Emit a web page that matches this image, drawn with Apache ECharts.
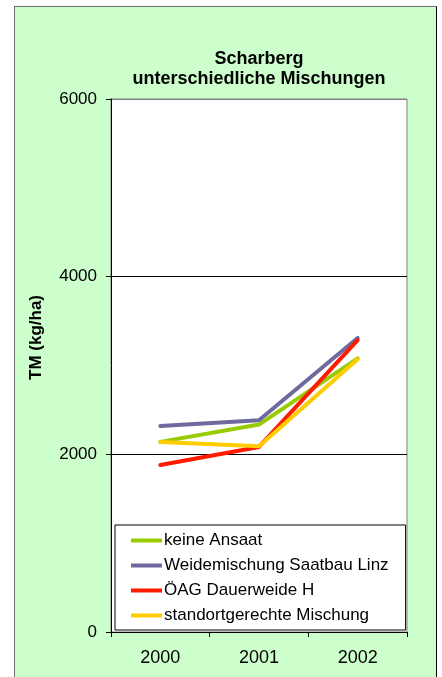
<!DOCTYPE html>
<html>
<head>
<meta charset="utf-8">
<script src="https://cdn.jsdelivr.net/npm/echarts@6/dist/echarts.min.js"></script>
<style>
html,body{margin:0;padding:0;background:#fff;}
#wrap{position:relative;width:442px;height:677px;overflow:hidden;}
#frame{position:absolute;left:14px;top:6px;width:421px;height:700px;background:#CCFFCC;border-left:1px solid #6e6e6e;border-top:1px solid #6e6e6e;border-right:1px solid #000;}
#chart{position:absolute;left:0;top:0;width:442px;height:677px;}
</style>
</head>
<body>
<div id="wrap"><div id="frame"></div><div id="chart"></div></div>
<script>
const categories = ['2000', '2001', '2002'];
const keineAnsaat = [2140, 2335, 3080];
const weidemischung = [2320, 2383, 3310];
const oeagDauerweide = [1880, 2083, 3285];
const standortgerecht = [2140, 2090, 3070];
const seriesNames = ['keine Ansaat', 'Weidemischung Saatbau Linz', 'ÖAG Dauerweide H', 'standortgerechte Mischung'];
const seriesColors = ['#99CC00', '#6E6A9E', '#FF1A00', '#FFCC00'];
const yTicks = { min: 0, max: 6000, interval: 2000 };
const titleText = 'Scharberg\nunterschiedliche Mischungen';
const yName = 'TM (kg/ha)';

const font = 'Liberation Sans, Arial, sans-serif';
const dataSets = [keineAnsaat, weidemischung, oeagDauerweide, standortgerecht];

const chart = echarts.init(document.getElementById('chart'), null, { renderer: 'canvas' });
chart.setOption({
  animation: false,
  backgroundColor: 'transparent',
  title: {
    text: titleText,
    left: 259, top: 49, textAlign: 'center',
    padding: 0,
    textStyle: { fontFamily: font, fontSize: 18, fontWeight: 'bold', color: '#000', lineHeight: 20 }
  },
  grid: {
    left: 111, right: 35, top: 99, bottom: 45,
    show: true, backgroundColor: '#fff', borderColor: '#808080', borderWidth: 1
  },
  legend: {
    orient: 'vertical',
    left: 115, top: 525,
    padding: [7, 17, 6, 16],
    itemGap: 8,
    itemWidth: 31, itemHeight: 4,
    icon: 'rect',
    backgroundColor: '#fff',
    borderColor: '#000', borderWidth: 1,
    textStyle: { fontFamily: font, fontSize: 17, color: '#000', padding: [0, 0, 0, -3] },
    data: seriesNames
  },
  xAxis: {
    type: 'category',
    data: categories,
    boundaryGap: true,
    axisLine: { lineStyle: { color: '#000', width: 1 } },
    axisTick: { show: true, length: 5, lineStyle: { color: '#000' } },
    axisLabel: { fontFamily: font, fontSize: 18, color: '#000', margin: 17 },
    splitLine: { show: false }
  },
  yAxis: {
    type: 'value',
    min: yTicks.min, max: yTicks.max, interval: yTicks.interval,
    name: yName,
    nameLocation: 'middle',
    nameGap: 66,
    nameTextStyle: { fontFamily: font, fontSize: 17, fontWeight: 'bold', color: '#000', padding: [0, 0, 0, 56] },
    axisLine: { show: true, lineStyle: { color: '#000', width: 1 } },
    axisTick: { show: true, length: 5, lineStyle: { color: '#000' } },
    axisLabel: { fontFamily: font, fontSize: 17, color: '#000', margin: 14, formatter: v => String(v) },
    splitLine: { show: true, lineStyle: { color: ['#000', '#000', '#000', '#808080'], width: 1 } }
  },
  series: seriesNames.map((n, i) => ({
    name: n,
    type: 'line',
    data: dataSets[i],
    symbol: 'none',
    lineStyle: { width: 4, color: seriesColors[i], cap: 'round', join: 'round' },
    itemStyle: { color: seriesColors[i] },
    z: 2 + i
  }))
});
</script>
</body>
</html>
